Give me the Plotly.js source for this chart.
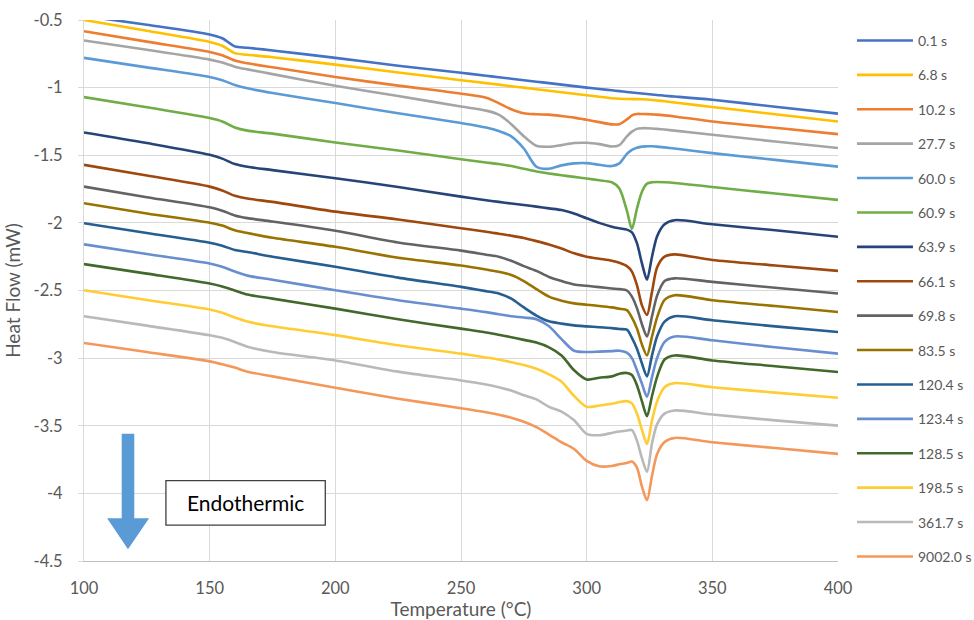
<!DOCTYPE html>
<html>
<head>
<meta charset="utf-8">
<script src="https://cdn.plot.ly/plotly-3.0.1.min.js"></script>
<style>
html,body{margin:0;padding:0;background:#fff;}
#chart{width:974px;height:620px;}
</style>
</head>
<body>
<div id="chart"></div>
<script>
// Temperature grid (°C)
const temps = [100,125,150,155,160,165,175,200,225,250,260,265,270,275,280,285,290,295,300,305,310,313,316,318,320,322,324,326,328,331,335,350,375,400];

// Legend labels (annealing time)
const seriesLabels = ['0.1 s','6.8 s','10.2 s','27.7 s','60.0 s','60.9 s','63.9 s','66.1 s','69.8 s','83.5 s','120.4 s','123.4 s','128.5 s','198.5 s','361.7 s','9002.0 s'];

// Heat flow (mW) for each series
const hf_0_1    = [-0.47,-0.535,-0.607,-0.635,-0.695,-0.705,-0.725,-0.78,-0.838,-0.89,-0.912,-0.923,-0.934,-0.945,-0.956,-0.967,-0.978,-0.989,-1.0,-1.01,-1.02,-1.026,-1.032,-1.036,-1.04,-1.044,-1.047,-1.051,-1.054,-1.06,-1.066,-1.09,-1.141,-1.192];
const hf_6_8    = [-0.50,-0.58,-0.662,-0.69,-0.745,-0.757,-0.775,-0.83,-0.888,-0.945,-0.967,-0.978,-0.99,-1.0,-1.012,-1.023,-1.034,-1.045,-1.056,-1.068,-1.078,-1.082,-1.084,-1.085,-1.085,-1.086,-1.088,-1.091,-1.095,-1.101,-1.11,-1.143,-1.197,-1.25];
const hf_10_2   = [-0.583,-0.66,-0.736,-0.76,-0.80,-0.82,-0.85,-0.921,-0.985,-1.045,-1.075,-1.115,-1.16,-1.19,-1.197,-1.20,-1.21,-1.222,-1.238,-1.255,-1.272,-1.27,-1.235,-1.205,-1.195,-1.195,-1.196,-1.198,-1.2,-1.205,-1.213,-1.25,-1.297,-1.344];
const hf_27_7   = [-0.652,-0.72,-0.793,-0.815,-0.845,-0.865,-0.9,-0.986,-1.062,-1.14,-1.17,-1.2,-1.27,-1.36,-1.43,-1.437,-1.425,-1.41,-1.408,-1.418,-1.435,-1.425,-1.36,-1.325,-1.305,-1.3,-1.3,-1.302,-1.305,-1.31,-1.318,-1.349,-1.398,-1.447];
const hf_60_0   = [-0.78,-0.85,-0.921,-0.945,-0.98,-1.005,-1.04,-1.114,-1.19,-1.262,-1.295,-1.32,-1.36,-1.45,-1.585,-1.60,-1.575,-1.56,-1.558,-1.57,-1.58,-1.56,-1.49,-1.46,-1.445,-1.436,-1.434,-1.434,-1.436,-1.442,-1.45,-1.484,-1.534,-1.584];
const hf_60_9   = [-1.07,-1.145,-1.225,-1.25,-1.295,-1.318,-1.34,-1.406,-1.465,-1.53,-1.553,-1.565,-1.58,-1.60,-1.62,-1.635,-1.648,-1.66,-1.672,-1.685,-1.70,-1.745,-1.91,-2.045,-1.895,-1.77,-1.71,-1.70,-1.698,-1.70,-1.705,-1.735,-1.783,-1.83];
const hf_63_9   = [-1.332,-1.41,-1.497,-1.525,-1.565,-1.585,-1.61,-1.67,-1.735,-1.806,-1.833,-1.845,-1.857,-1.868,-1.88,-1.893,-1.905,-1.93,-1.966,-2.0,-2.028,-2.04,-2.05,-2.07,-2.15,-2.30,-2.42,-2.25,-2.10,-2.01,-1.98,-2.01,-2.055,-2.103];
const hf_66_1   = [-1.571,-1.65,-1.732,-1.76,-1.80,-1.82,-1.845,-1.917,-1.975,-2.04,-2.065,-2.08,-2.095,-2.112,-2.135,-2.16,-2.19,-2.225,-2.25,-2.265,-2.28,-2.295,-2.32,-2.36,-2.46,-2.61,-2.68,-2.51,-2.33,-2.25,-2.233,-2.275,-2.315,-2.355];
const hf_69_8   = [-1.732,-1.81,-1.885,-1.91,-1.945,-1.965,-1.99,-2.058,-2.145,-2.205,-2.235,-2.25,-2.28,-2.32,-2.355,-2.40,-2.43,-2.455,-2.465,-2.475,-2.485,-2.49,-2.50,-2.545,-2.63,-2.75,-2.84,-2.69,-2.54,-2.43,-2.41,-2.436,-2.48,-2.522];
const hf_83_5   = [-1.855,-1.93,-1.999,-2.02,-2.055,-2.075,-2.11,-2.177,-2.258,-2.315,-2.345,-2.362,-2.385,-2.43,-2.49,-2.545,-2.575,-2.595,-2.605,-2.614,-2.625,-2.635,-2.645,-2.70,-2.78,-2.90,-2.98,-2.84,-2.70,-2.57,-2.535,-2.572,-2.615,-2.659];
const hf_120_4  = [-2.003,-2.075,-2.147,-2.17,-2.20,-2.215,-2.25,-2.325,-2.405,-2.473,-2.505,-2.522,-2.56,-2.625,-2.685,-2.728,-2.745,-2.758,-2.765,-2.772,-2.778,-2.785,-2.79,-2.85,-2.93,-3.04,-3.135,-2.98,-2.84,-2.73,-2.69,-2.72,-2.765,-2.807];
const hf_123_4  = [-2.159,-2.23,-2.30,-2.325,-2.36,-2.39,-2.42,-2.498,-2.572,-2.634,-2.66,-2.676,-2.69,-2.70,-2.712,-2.765,-2.86,-2.945,-2.955,-2.952,-2.948,-2.945,-2.96,-3.0,-3.09,-3.19,-3.285,-3.14,-3.0,-2.88,-2.84,-2.868,-2.92,-2.967];
const hf_128_5  = [-2.305,-2.375,-2.448,-2.47,-2.50,-2.53,-2.56,-2.634,-2.713,-2.782,-2.81,-2.827,-2.845,-2.865,-2.885,-2.92,-2.98,-3.09,-3.158,-3.145,-3.135,-3.115,-3.11,-3.125,-3.20,-3.32,-3.43,-3.28,-3.14,-3.01,-2.98,-3.017,-3.06,-3.103];
const hf_198_5  = [-2.498,-2.57,-2.641,-2.665,-2.70,-2.73,-2.765,-2.83,-2.905,-2.967,-2.995,-3.01,-3.03,-3.05,-3.078,-3.12,-3.175,-3.28,-3.36,-3.35,-3.338,-3.325,-3.318,-3.335,-3.41,-3.53,-3.635,-3.46,-3.32,-3.215,-3.185,-3.215,-3.255,-3.293];
const hf_361_7  = [-2.69,-2.76,-2.831,-2.85,-2.88,-2.915,-2.955,-3.017,-3.10,-3.165,-3.195,-3.215,-3.24,-3.275,-3.305,-3.36,-3.395,-3.46,-3.56,-3.57,-3.553,-3.543,-3.535,-3.532,-3.61,-3.74,-3.84,-3.63,-3.49,-3.41,-3.387,-3.417,-3.46,-3.499];
const hf_9002_0 = [-2.888,-2.955,-3.024,-3.045,-3.07,-3.10,-3.135,-3.219,-3.30,-3.37,-3.40,-3.418,-3.44,-3.47,-3.51,-3.565,-3.622,-3.672,-3.76,-3.80,-3.797,-3.785,-3.775,-3.765,-3.81,-3.95,-4.05,-3.87,-3.71,-3.62,-3.59,-3.622,-3.665,-3.708];

const seriesValues = [hf_0_1,hf_6_8,hf_10_2,hf_27_7,hf_60_0,hf_60_9,hf_63_9,hf_66_1,hf_69_8,hf_83_5,hf_120_4,hf_123_4,hf_128_5,hf_198_5,hf_361_7,hf_9002_0];

// Axis ticks
const xTicks = [100,150,200,250,300,350,400];
const yTicks = [-0.5,-1,-1.5,-2,-2.5,-3,-3.5,-4,-4.5];
const yTickLabels = ['-0.5','-1','-1.5','-2','-2.5','-3','-3.5','-4','-4.5'];

const colors = ['#4472C4','#FFC000','#ED7D31','#A5A5A5','#5B9BD5','#70AD47','#264478','#9E480E','#636363','#997300','#255E91','#698ED0','#43682B','#FFCD33','#B9B9B9','#F4975A'];

const FONT = 'Lato, "Open Sans", "DejaVu Sans", sans-serif';

const traces = seriesValues.map((vals, i) => ({
  type: 'scatter',
  mode: 'lines',
  x: temps,
  y: vals,
  name: seriesLabels[i],
  legendgroup: 'g' + i,
  line: {color: colors[i], width: 2.6, shape: 'spline', smoothing: 0.8},
  hoverinfo: 'x+y+name'
}));

const layout = {
  width: 974,
  height: 620,
  margin: {l: 84, r: 136, t: 20, b: 59, autoexpand: false},
  paper_bgcolor: '#ffffff',
  plot_bgcolor: '#ffffff',
  font: {family: FONT, size: 14, color: '#595959'},
  showlegend: true,
  legend: {
    xref: 'container',
    x: 0.8747, y: 0.991, xanchor: 'left', yanchor: 'top',
    font: {family: FONT, size: 14, color: '#595959'},
    tracegroupgap: 13.2,
    itemwidth: 56,
    maxheight: 610,
    bgcolor: 'rgba(0,0,0,0)'
  },
  xaxis: {
    range: [100, 400],
    tickvals: xTicks,
    ticktext: xTicks.map(String),
    showgrid: true, gridcolor: '#D9D9D9', gridwidth: 1,
    zeroline: false,
    showline: true, linecolor: '#BFBFBF', linewidth: 1,
    ticks: '', ticklabelstandoff: 12,
    tickfont: {family: FONT, size: 16.5, color: '#595959'},
    title: {text: 'Temperature (°C)', font: {family: FONT, size: 19, color: '#595959'}, standoff: 4}
  },
  yaxis: {
    range: [-4.5, -0.5],
    tickvals: yTicks,
    ticktext: yTickLabels,
    showgrid: true, gridcolor: '#D9D9D9', gridwidth: 1,
    zeroline: false,
    showline: true, linecolor: '#D9D9D9', linewidth: 1,
    ticks: 'outside', ticklen: 5, tickcolor: '#D9D9D9',
    ticklabelstandoff: 12,
    tickfont: {family: FONT, size: 16.5, color: '#595959'},
    title: {text: 'Heat Flow (mW)', font: {family: FONT, size: 19, color: '#595959'}, standoff: 7}
  },
  shapes: [
    {type: 'path', xref: 'x', yref: 'y',
     path: 'M 115.0,-3.56 L 120.0,-3.56 L 120.0,-4.183 L 125.9,-4.183 L 117.5,-4.413 L 109.2,-4.183 L 115.0,-4.183 Z',
     fillcolor: '#5B9BD5', line: {width: 0}},
    {type: 'rect', xref: 'x', yref: 'y', x0: 132.6, x1: 196.0, y0: -3.906, y1: -4.235,
     fillcolor: '#ffffff', line: {color: '#404040', width: 1.3}}
  ],
  annotations: [
    {xref: 'x', yref: 'y', x: 164.3, y: -4.07, text: 'Endothermic', showarrow: false,
     font: {family: FONT, size: 21, color: '#000000'}}
  ]
};

Plotly.newPlot('chart', traces, layout, {displayModeBar: false, staticPlot: true});
</script>
</body>
</html>
